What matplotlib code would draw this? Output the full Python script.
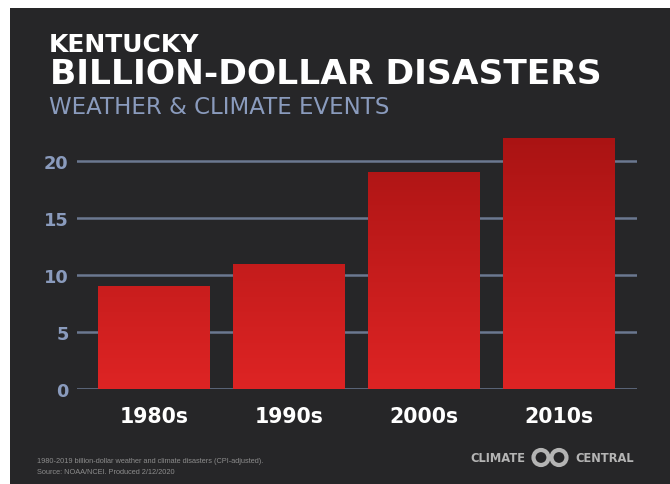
import matplotlib
matplotlib.use("Agg")
import matplotlib.pyplot as plt
import numpy as np
from matplotlib.patches import Rectangle, Ellipse
from matplotlib.colors import LinearSegmentedColormap

decades = ["1980s", "1990s", "2000s", "2010s"]
counts = [9, 11, 19, 22]
yticks = [0, 5, 10, 15, 20]

W, H = 670, 485
BG = "#262628"
fig = plt.figure(figsize=(W / 100, H / 100), dpi=100, facecolor="white")

def fx(px):
    return px / W

def fy(py):
    return 1 - py / H

fig.patches.append(Rectangle((fx(10), 0), 1 - fx(10), fy(9), transform=fig.transFigure,
                             facecolor=BG, edgecolor="none", zorder=-5))

ax = fig.add_axes([fx(77), fy(390), fx(637) - fx(77), fy(130) - fy(390)])
ax.set_facecolor("none")
ymax = 22.8
ax.set_xlim(-0.57, 3.58)
ax.set_ylim(0, ymax)

for t in yticks:
    ax.axhline(t, color="#6b7890", lw=1.8, zorder=1)

cmap = LinearSegmentedColormap.from_list("r", ["#de2424", "#a81313"])
grad = np.linspace(0, 1, 256).reshape(-1, 1)
bw = 0.83
bars = ax.bar(range(len(decades)), counts, width=bw, color="none", edgecolor="none", zorder=2)
for b in bars:
    im = ax.imshow(grad, cmap=cmap, aspect="auto", origin="lower",
                   extent=(-0.57, 3.58, 0, ymax), zorder=2, vmin=0, vmax=1)
    im.set_clip_path(b)

ax.set_xlim(-0.57, 3.58)
ax.set_ylim(0, ymax)
ax.set_xticks(range(len(decades)))
ax.set_xticklabels(decades)
ax.set_yticks(yticks)
for s in ax.spines.values():
    s.set_visible(False)
ax.tick_params(axis="y", length=0, pad=6, labelsize=12.8, labelcolor="#8a9bbd")
ax.tick_params(axis="x", length=0, pad=12, labelsize=14.8, labelcolor="white")
for l in ax.get_yticklabels() + ax.get_xticklabels():
    l.set_fontfamily("DejaVu Sans"); l.set_fontweight("bold")

fig.text(fx(49), fy(52), "KENTUCKY", color="white", fontsize=18, fontweight="bold",
         family="DejaVu Sans", va="baseline", ha="left")
fig.text(fx(50), fy(84), "BILLION-DOLLAR DISASTERS", color="white", fontsize=24.8,
         fontweight="bold", family="DejaVu Sans", va="baseline", ha="left")
fig.text(fx(49), fy(114), "WEATHER & CLIMATE EVENTS", color="#8a9bbd", fontsize=16.5,
         family="DejaVu Sans", va="baseline", ha="left")

fig.text(fx(37), fy(463), "1980-2019 billion-dollar weather and climate disasters (CPI-adjusted).",
         color="#8c8c8c", fontsize=5.3, family="Liberation Sans", va="baseline")
fig.text(fx(37), fy(474), "Source: NOAA/NCEI. Produced 2/12/2020",
         color="#8c8c8c", fontsize=5.3, family="Liberation Sans", va="baseline")

logo_c = "#b4b4b4"
fig.text(fx(470), fy(462), "CLIMATE", color=logo_c, fontsize=8.3, fontweight="bold",
         family="DejaVu Sans", va="baseline", ha="left")
fig.text(fx(634), fy(462), "CENTRAL", color=logo_c, fontsize=8.3, fontweight="bold",
         family="DejaVu Sans", va="baseline", ha="right")
for cx in (541, 559):
    fig.patches.append(Ellipse((fx(cx), fy(458.5)), width=fx(15), height=15 / H,
                               transform=fig.transFigure, facecolor="none",
                               edgecolor=logo_c, lw=3, zorder=3))

fig.savefig("out.png", dpi=100, facecolor="white")
